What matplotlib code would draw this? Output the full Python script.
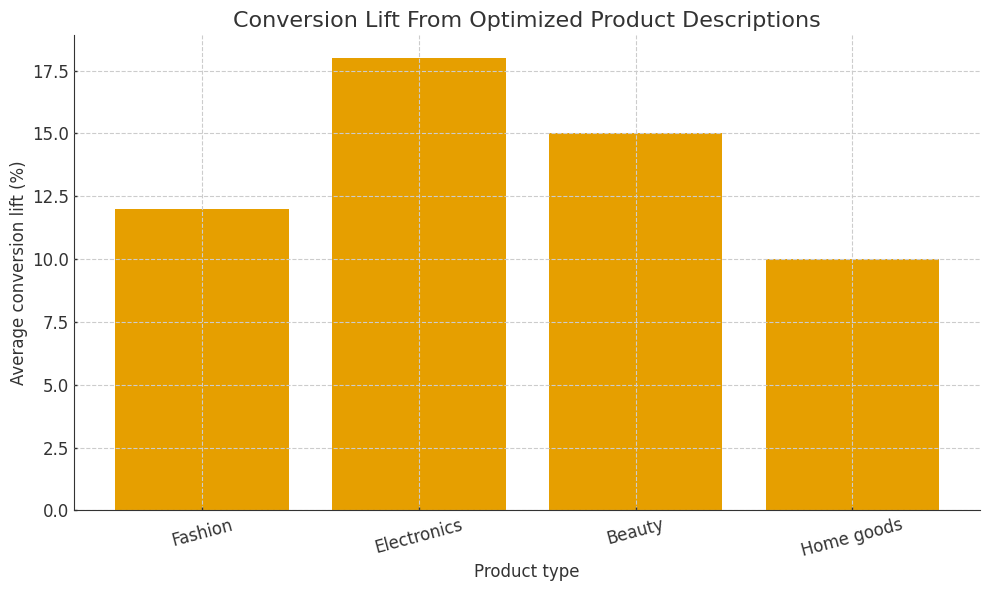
import matplotlib
matplotlib.use("Agg")
import matplotlib.pyplot as plt

categories = ["Fashion", "Electronics", "Beauty", "Home goods"]
lift = [12, 18, 15, 10]

txt = "#333333"
plt.rcParams.update({
    "font.family": ["DejaVu Sans"],
    "text.color": txt,
    "axes.labelcolor": txt,
    "xtick.color": txt,
    "ytick.color": txt,
    "axes.edgecolor": txt,
})

fig, ax = plt.subplots(figsize=(9.9, 5.9), dpi=100)
ax.bar(categories, lift, color="#E69F00", width=0.8)
ax.set_title("Conversion Lift From Optimized Product Descriptions", fontsize=16, color=txt)
ax.set_xlabel("Product type", fontsize=12, labelpad=2)
ax.set_ylabel("Average conversion lift (%)", fontsize=12, labelpad=3)
ax.tick_params(axis="both", labelsize=12, direction="in", length=2.5, width=1, pad=4)
plt.setp(ax.get_xticklabels(), rotation=15)
ax.grid(True, linestyle="--", color="#cccccc", linewidth=0.8)
ax.set_axisbelow(False)
ax.spines["top"].set_visible(False)
ax.spines["right"].set_visible(False)
fig.subplots_adjust(left=0.075, right=0.99, top=0.94, bottom=0.135)
fig.savefig("out.png", dpi=100)
